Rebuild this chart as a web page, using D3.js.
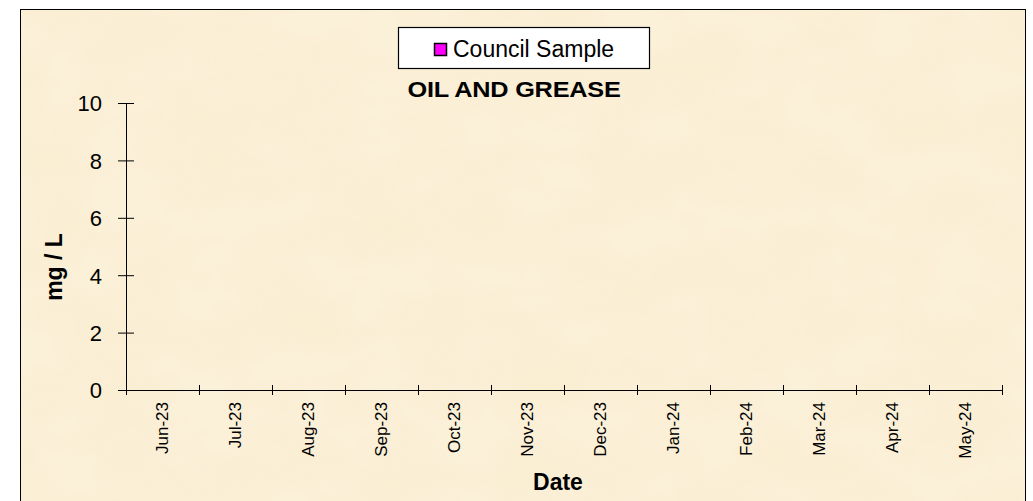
<!DOCTYPE html>
<html>
<head>
<meta charset="utf-8">
<script src="https://cdn.jsdelivr.net/npm/d3@7"></script>
<style>
  body { margin: 0; background: #fff; }
  svg { display: block; font-family: "Liberation Sans", Arial, sans-serif; }
</style>
</head>
<body>
<svg id="chart" width="1033" height="501"></svg>
<script>
// chart data
var months = ["Jun-23", "Jul-23", "Aug-23", "Sep-23", "Oct-23", "Nov-23",
              "Dec-23", "Jan-24", "Feb-24", "Mar-24", "Apr-24", "May-24"];
var councilSample = [null, null, null, null, null, null, null, null, null, null, null, null];
var yTicks = [0, 2, 4, 6, 8, 10];
var seriesName = "Council Sample";
var chartTitle = "OIL AND GREASE";

var svg = d3.select("#chart"),
    plot = {left: 126, right: 1002, top: 103, bottom: 390};

// parchment background
var defs = svg.append("defs");
var filt = defs.append("filter").attr("id", "paper")
    .attr("x", 0).attr("y", 0).attr("width", "100%").attr("height", "100%");
filt.append("feTurbulence").attr("type", "fractalNoise")
    .attr("baseFrequency", "0.012 0.02").attr("numOctaves", 3).attr("seed", 7);
filt.append("feColorMatrix").attr("type", "matrix")
    .attr("values", "0 0 0 0 0.94  0 0 0 0 0.84  0 0 0 0 0.60  0 0 0 0.8 -0.25");
filt.append("feComposite").attr("in2", "SourceGraphic").attr("operator", "in");

svg.append("rect")
    .attr("x", 20.5).attr("y", 9.5).attr("width", 1005).attr("height", 500)
    .attr("fill", "#fbf0d8");
svg.append("rect")
    .attr("x", 21).attr("y", 10).attr("width", 1004).attr("height", 491)
    .attr("fill", "#fbf0d8").attr("filter", "url(#paper)");
svg.append("rect")
    .attr("x", 20.5).attr("y", 9.5).attr("width", 1005).attr("height", 500)
    .attr("fill", "none").attr("stroke", "#000").attr("stroke-width", 1);

var xIdx = d3.scaleLinear().domain([0, months.length]).range([plot.left, plot.right]);
var xBand = d3.scaleBand().domain(months).range([plot.left, plot.right]);
var y = d3.scaleLinear().domain([0, 10]).range([plot.bottom, plot.top]);

// y axis
var gy = svg.append("g")
    .attr("transform", "translate(" + plot.left + ",0)")
    .call(d3.axisLeft(y).tickValues(yTicks).tickSizeInner(8).tickSizeOuter(0).tickPadding(16));
gy.select(".domain").attr("stroke", "#000");
gy.selectAll(".tick line").attr("x1", 8).attr("x2", -8).attr("stroke", "#000");
gy.selectAll(".tick text")
    .attr("font-size", 22).attr("font-family", "Liberation Sans, Arial, sans-serif")
    .attr("fill", "#000").attr("dy", "0.36em");

// x axis: tick marks between categories
var gx = svg.append("g")
    .attr("transform", "translate(0," + plot.bottom + ")")
    .call(d3.axisBottom(xIdx).tickValues(d3.range(months.length + 1)).tickFormat("").tickSizeOuter(0));
gx.select(".domain").attr("stroke", "#000");
gx.selectAll(".tick line").attr("y1", -5).attr("y2", 5).attr("stroke", "#000");

// x labels, rotated
var gxl = svg.append("g")
    .attr("transform", "translate(0," + plot.bottom + ")")
    .call(d3.axisBottom(xBand).tickSize(0).tickPadding(0));
gxl.select(".domain").remove();
gxl.selectAll(".tick text")
    .attr("font-size", 17).attr("font-family", "Liberation Sans, Arial, sans-serif")
    .attr("fill", "#000")
    .attr("transform", "rotate(-90)")
    .attr("text-anchor", "end")
    .attr("x", -12).attr("y", 0).attr("dy", "0.35em");

// series points (no samples recorded)
svg.append("g").selectAll("rect")
    .data(councilSample.map(function(v, i) { return {m: months[i], v: v}; })
      .filter(function(d) { return d.v != null; }))
  .enter().append("rect")
    .attr("x", function(d) { return xBand(d.m) + xBand.bandwidth() / 2 - 5; })
    .attr("y", function(d) { return y(d.v) - 5; })
    .attr("width", 10).attr("height", 10)
    .attr("fill", "#ff00ff").attr("stroke", "#000");

// axis titles
svg.append("text")
    .attr("x", 558).attr("y", 490)
    .attr("text-anchor", "middle")
    .attr("font-size", 23).attr("font-weight", "bold")
    .text("Date");
svg.append("text")
    .attr("transform", "translate(62,267) rotate(-90)")
    .attr("text-anchor", "middle")
    .attr("font-size", 23).attr("font-weight", "bold")
    .text("mg / L");

// title (slightly wide glyphs, as in the original)
svg.append("text")
    .attr("transform", "translate(514,97) scale(1.15,1)")
    .attr("text-anchor", "middle")
    .attr("font-size", 22).attr("font-weight", "bold")
    .attr("letter-spacing", -0.2)
    .text(chartTitle);

// legend
var lg = svg.append("g");
lg.append("rect")
    .attr("x", 398.5).attr("y", 27.5).attr("width", 251).attr("height", 41)
    .attr("fill", "#fff").attr("stroke", "#000").attr("stroke-width", 1.2);
lg.append("rect")
    .attr("x", 434.5).attr("y", 43.5).attr("width", 12).attr("height", 12)
    .attr("fill", "#ff00ff").attr("stroke", "#000").attr("stroke-width", 1.5);
lg.append("text")
    .attr("x", 453).attr("y", 57)
    .attr("font-size", 23)
    .text(seriesName);
</script>
</body>
</html>
